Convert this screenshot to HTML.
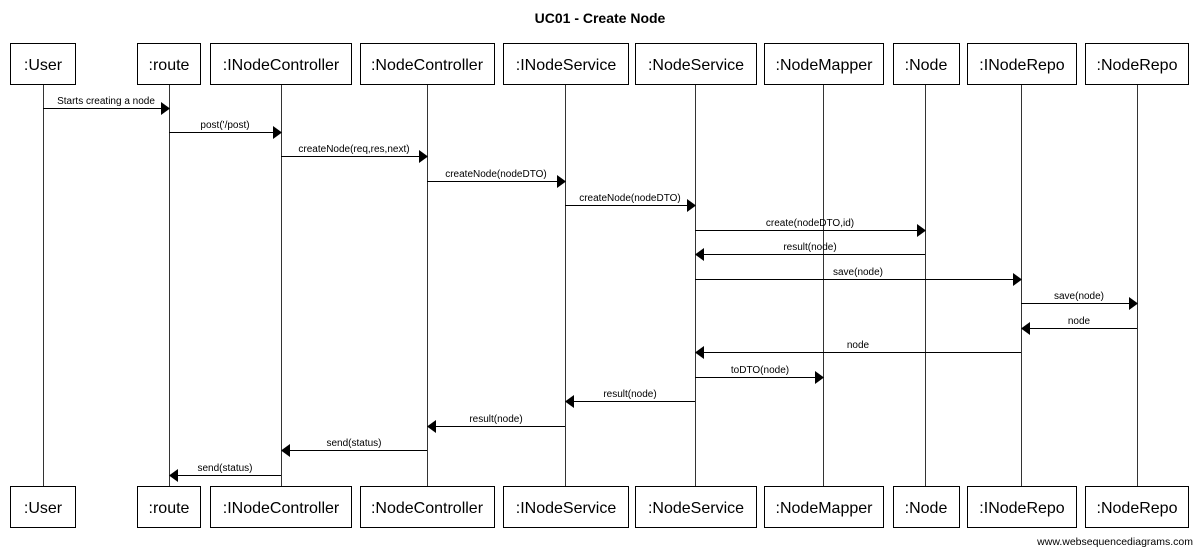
<!DOCTYPE html>
<html><head><meta charset="utf-8"><style>
html,body{margin:0;padding:0;background:#fff;}
svg{display:block;}
text{font-family:"Liberation Sans",Arial,sans-serif;}
.lab{font-size:10px;fill:#000;text-anchor:middle;}
.box{font-size:16px;text-anchor:middle;}
</style></head><body>
<svg width="1200" height="552" viewBox="0 0 1200 552" xmlns="http://www.w3.org/2000/svg">
<text x="600" y="23" font-size="14" font-weight="bold" text-anchor="middle">UC01 - Create Node</text>
<g stroke="#333" stroke-width="1">
<line x1="43.5" y1="84" x2="43.5" y2="486"/>
<line x1="169.5" y1="84" x2="169.5" y2="486"/>
<line x1="281.5" y1="84" x2="281.5" y2="486"/>
<line x1="427.5" y1="84" x2="427.5" y2="486"/>
<line x1="565.5" y1="84" x2="565.5" y2="486"/>
<line x1="695.5" y1="84" x2="695.5" y2="486"/>
<line x1="823.5" y1="84" x2="823.5" y2="486"/>
<line x1="925.5" y1="84" x2="925.5" y2="486"/>
<line x1="1021.5" y1="84" x2="1021.5" y2="486"/>
<line x1="1137.5" y1="84" x2="1137.5" y2="486"/>
</g>
<g fill="#fff" stroke="#000" stroke-width="1">
<rect x="10.5" y="43.5" width="65" height="41"/>
<rect x="137.5" y="43.5" width="63" height="41"/>
<rect x="210.5" y="43.5" width="141" height="41"/>
<rect x="360.5" y="43.5" width="134" height="41"/>
<rect x="503.5" y="43.5" width="125" height="41"/>
<rect x="635.5" y="43.5" width="121" height="41"/>
<rect x="764.5" y="43.5" width="119" height="41"/>
<rect x="893.5" y="43.5" width="66" height="41"/>
<rect x="967.5" y="43.5" width="109" height="41"/>
<rect x="1085.5" y="43.5" width="103" height="41"/>
<rect x="10.5" y="486.5" width="65" height="41"/>
<rect x="137.5" y="486.5" width="63" height="41"/>
<rect x="210.5" y="486.5" width="141" height="41"/>
<rect x="360.5" y="486.5" width="134" height="41"/>
<rect x="503.5" y="486.5" width="125" height="41"/>
<rect x="635.5" y="486.5" width="121" height="41"/>
<rect x="764.5" y="486.5" width="119" height="41"/>
<rect x="893.5" y="486.5" width="66" height="41"/>
<rect x="967.5" y="486.5" width="109" height="41"/>
<rect x="1085.5" y="486.5" width="103" height="41"/>
</g>
<g class="box">
<text x="43" y="70">:User</text><text x="169" y="70">:route</text><text x="281" y="70">:INodeController</text><text x="427" y="70">:NodeController</text><text x="566" y="70">:INodeService</text><text x="696" y="70">:NodeService</text><text x="824" y="70">:NodeMapper</text><text x="926" y="70">:Node</text><text x="1022" y="70">:INodeRepo</text><text x="1137" y="70">:NodeRepo</text>
<text x="43" y="513">:User</text><text x="169" y="513">:route</text><text x="281" y="513">:INodeController</text><text x="427" y="513">:NodeController</text><text x="566" y="513">:INodeService</text><text x="696" y="513">:NodeService</text><text x="824" y="513">:NodeMapper</text><text x="926" y="513">:Node</text><text x="1022" y="513">:INodeRepo</text><text x="1137" y="513">:NodeRepo</text>
</g>
<g stroke="#000" stroke-width="1">
<line x1="43" y1="108.5" x2="162" y2="108.5"/>
<line x1="169" y1="132.5" x2="274" y2="132.5"/>
<line x1="281" y1="156.5" x2="420" y2="156.5"/>
<line x1="427" y1="181.5" x2="558" y2="181.5"/>
<line x1="565" y1="205.5" x2="688" y2="205.5"/>
<line x1="695" y1="230.5" x2="918" y2="230.5"/>
<line x1="702" y1="254.5" x2="925" y2="254.5"/>
<line x1="695" y1="279.5" x2="1014" y2="279.5"/>
<line x1="1021" y1="303.5" x2="1130" y2="303.5"/>
<line x1="1028" y1="328.5" x2="1137" y2="328.5"/>
<line x1="702" y1="352.5" x2="1021" y2="352.5"/>
<line x1="695" y1="377.5" x2="816" y2="377.5"/>
<line x1="572" y1="401.5" x2="695" y2="401.5"/>
<line x1="434" y1="426.5" x2="565" y2="426.5"/>
<line x1="288" y1="450.5" x2="427" y2="450.5"/>
<line x1="176" y1="475.5" x2="281" y2="475.5"/>
</g>
<g fill="#000">
<polygon points="161,102 170,108.5 161,115"/>
<polygon points="273,126 282,132.5 273,139"/>
<polygon points="419,150 428,156.5 419,163"/>
<polygon points="557,175 566,181.5 557,188"/>
<polygon points="687,199 696,205.5 687,212"/>
<polygon points="917,224 926,230.5 917,237"/>
<polygon points="704,248 695,254.5 704,261"/>
<polygon points="1013,273 1022,279.5 1013,286"/>
<polygon points="1129,297 1138,303.5 1129,310"/>
<polygon points="1030,322 1021,328.5 1030,335"/>
<polygon points="704,346 695,352.5 704,359"/>
<polygon points="815,371 824,377.5 815,384"/>
<polygon points="574,395 565,401.5 574,408"/>
<polygon points="436,420 427,426.5 436,433"/>
<polygon points="290,444 281,450.5 290,457"/>
<polygon points="178,469 169,475.5 178,482"/>
</g>
<g class="lab">
<text x="106" y="104">Starts creating a node</text>
<text x="225" y="128">post('/post)</text>
<text x="354" y="152">createNode(req,res,next)</text>
<text x="496" y="177">createNode(nodeDTO)</text>
<text x="630" y="201">createNode(nodeDTO)</text>
<text x="810" y="226">create(nodeDTO,id)</text>
<text x="810" y="250">result(node)</text>
<text x="858" y="275">save(node)</text>
<text x="1079" y="299">save(node)</text>
<text x="1079" y="324">node</text>
<text x="858" y="348">node</text>
<text x="760" y="373">toDTO(node)</text>
<text x="630" y="397">result(node)</text>
<text x="496" y="422">result(node)</text>
<text x="354" y="446">send(status)</text>
<text x="225" y="471">send(status)</text>
</g>
<text x="1193" y="545" font-size="10.5" text-anchor="end">www.websequencediagrams.com</text>
</svg>
</body></html>
